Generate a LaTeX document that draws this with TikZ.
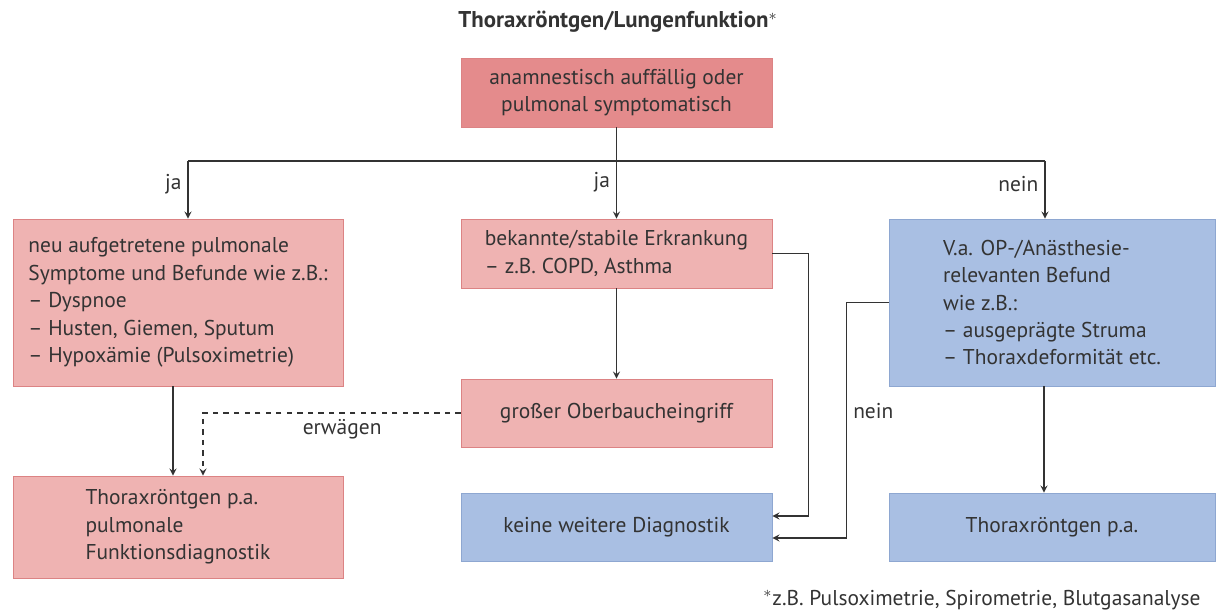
\documentclass[tikz,border=0pt]{standalone}
\usepackage{fontspec}
\setmainfont{PT Sans}
\usepackage{xcolor}
\usetikzlibrary{positioning,shapes.geometric,arrows}
\definecolor{topred}{HTML}{E48B8C}
\definecolor{lightred}{HTML}{EFB3B2}
\definecolor{lightblue}{HTML}{A9BFE3}
\definecolor{redline}{HTML}{DC8384}
\definecolor{blueline}{HTML}{8EA7D1}
\definecolor{ink}{HTML}{333333}
\tikzstyle{question} = [rectangle, minimum width=6.22cm, minimum height=1.38cm, align=center, draw=redline, fill=topred]
\tikzstyle{finding} = [rectangle, minimum width=6.22cm, minimum height=1.36cm, align=left, draw=redline, fill=lightred]
\tikzstyle{outcome} = [rectangle, minimum width=6.22cm, minimum height=1.36cm, align=left, draw=blueline, fill=lightblue]
\tikzstyle{arrow} = [thick,->,>=stealth,draw=ink]

\begin{document}
\begin{tikzpicture}[x=0.02cm, y=-0.02cm, every node/.style={text=ink, font=\fontsize{12.2}{15.6}\selectfont}]

	\useasboundingbox (0,0) rectangle (1217,614);

	\node (title) at (618,22) {\fontsize{13}{15}\selectfont\bfseries Thoraxröntgen/Lungenfunktion$^{*}$};
	\node (start) [question] at (616.5,92.5) {anamnestisch auffällig oder\\pulmonal symptomatisch};

	\node (new) [finding, minimum width=6.6cm, minimum height=3.34cm] at (178,302.5) {neu aufgetretene pulmonale\\Symptome und Befunde wie z.B.:\\– Dyspnoe\\– Husten, Giemen, Sputum\\– Hypoxämie (Pulsoximetrie)};
	\node (known) [finding, minimum height=1.38cm] at (616.5,253.5) {bekannte/stabile Erkrankung\\– z.B. COPD, Asthma};
	\node (surgery) [finding] at (616.5,413) {großer Oberbaucheingriff};
	\node (relevant) [outcome, minimum width=6.52cm, minimum height=3.34cm] at (1052,302.5) {V.a. OP-/Anästhesie-\\relevanten Befund\\wie z.B.:\\– ausgeprägte Struma\\– Thoraxdeformität etc.};

	\node (xraylung) [finding, minimum width=6.6cm, minimum height=2.04cm] at (178,527) {Thoraxröntgen p.a.\\pulmonale\\Funktionsdiagnostik};
	\node (none) [outcome, align=center] at (616.5,527) {keine weitere Diagnostik};
	\node (xray) [outcome, minimum width=6.52cm, align=center] at (1052,527) {Thoraxröntgen p.a.};

	\node (note) at (982,600) {$^{*}$z.B. Pulsoximetrie, Spirometrie, Blutgasanalyse};

	\coordinate (splitL) at (188,161);
	\coordinate (splitR) at (1045,161);

	\draw [thick, draw=ink] (splitL) -- (splitR);
	\draw [arrow] (start) -- node[pos=0.6, left] {ja} (known);
	\draw [arrow] (splitL) -- node[pos=0.4, left] {ja} (splitL |- new.north);
	\draw [arrow] (splitR) -- node[pos=0.4, left] {nein} (splitR |- relevant.north);
	\draw [arrow] (known) -- (surgery);
	\draw [arrow] ([xshift=-0.1cm]new.south) -- ([xshift=-0.1cm]xraylung.north);
	\draw [arrow, dashed] (surgery.west) -| node[pos=0.23, below] {erwägen} ([xshift=0.5cm]xraylung.north);
	\draw [arrow] ([xshift=-0.16cm]relevant.south) -- ([xshift=-0.16cm]xray.north);
	\draw [arrow] (known.east) -- ++(36,0) |- ([yshift=0.22cm]none.east);
	\draw [arrow] (relevant.west) -- ++(-42,0) |- node[pos=0.23, right] {nein} ([yshift=-0.22cm]none.east);

\end{tikzpicture}
\end{document}
